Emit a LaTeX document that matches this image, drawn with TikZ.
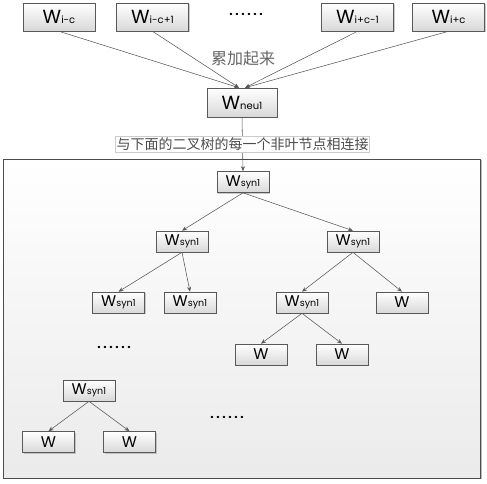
\documentclass[tikz,border=0pt]{standalone}
\usepackage{fontspec}
\setmainfont{Poppins}
\newfontfamily\cjk{Noto Sans CJK SC}
\usetikzlibrary{arrows.meta,shadows}
\newcommand{\WTop}[1]{{\fontsize{19}{19}\selectfont W}{\fontsize{10}{10}\selectfont #1}}
\newcommand{\WTree}[1]{{\fontsize{15.5}{15.5}\selectfont W}{\fontsize{9.5}{9.5}\selectfont #1}}
\newcommand{\SixDots}{.\kern2.6pt.\kern2.6pt.\kern2.6pt.\kern2.6pt.\kern2.6pt.}
\tikzset{
  boxbase/.style={draw=black!65, line width=0.6pt, top color=white, bottom color=black!15,
    inner sep=0pt, drop shadow={shadow xshift=1.3pt, shadow yshift=-1.3pt, fill=black!40, opacity=0.5}},
  topbox/.style={boxbase, minimum width=72pt, minimum height=28pt},
  neubox/.style={boxbase, minimum width=70pt, minimum height=29pt},
  treebox/.style={boxbase, minimum width=52pt, minimum height=21pt},
  conn/.style={draw=black!65, line width=0.55pt, -{Stealth[length=5pt,width=4pt]}},
  dotstyle/.style={font=\fontsize{12}{12}\selectfont\bfseries, inner sep=0pt}
}
\begin{document}
\begin{tikzpicture}[x=1pt,y=-1pt]
\useasboundingbox (0,0) rectangle (487,483);
% outer frame
\node[draw=black!70, line width=0.6pt, top color=white, bottom color=black!8,
  minimum width=477pt, minimum height=319pt, inner sep=0pt,
  drop shadow={shadow xshift=2pt, shadow yshift=-1pt, fill=black!45, opacity=0.6}] (frame) at (241.5,318.5) {};
% top row
\node[topbox] (t1) at (59,17) {\WTop{i-c}};
\node[topbox] (t2) at (152.5,17) {\WTop{i-c+1}};
\node[dotstyle] (tdots) at (246,14) {\SixDots};
\node[topbox] (t3) at (357.5,17) {\WTop{i+c-1}};
\node[topbox] (t4) at (448.5,17) {\WTop{i+c}};
\node[neubox] (neu) at (242,102.5) {\WTop{neu1}};
\node[font=\cjk\fontsize{16}{16}\selectfont, text=black!60, inner sep=1pt] (sumlbl) at (243,58) {累加起来};
\draw[conn] (t1.south) -- ([xshift=-3pt]neu.north);
\draw[conn] (t2.south) -- ([xshift=-3pt]neu.north);
\draw[conn] (t3.south) -- ([xshift=3pt]neu.north);
\draw[conn] (t4.south) -- ([xshift=3pt]neu.north);
% tree
\node[treebox] (r) at (243,182) {\WTree{syn1}};
\node[treebox] (a) at (182,241.5) {\WTree{syn1}};
\node[treebox] (b) at (353,241.5) {\WTree{syn1}};
\node[treebox] (a1) at (118.5,302.5) {\WTree{syn1}};
\node[treebox] (a2) at (190,302.5) {\WTree{syn1}};
\node[treebox] (b1) at (302,302.5) {\WTree{syn1}};
\node[treebox] (b2) at (402,302.5) {\WTree{}};
\node[treebox] (c1) at (261,354.5) {\WTree{}};
\node[treebox] (c2) at (342,354.5) {\WTree{}};
\node[treebox] (d) at (89,390.5) {\WTree{syn1}};
\node[treebox] (d1) at (48.5,442) {\WTree{}};
\node[treebox] (d2) at (129.5,442) {\WTree{}};
\node[dotstyle] (dots1) at (114,347) {\SixDots};
\node[dotstyle] (dots2) at (227,417) {\SixDots};
\draw[conn] (neu.south) -- (r.north);
\node[draw=black!20, fill=white, text=black!70, font=\cjk\fontsize{14}{14}\selectfont, inner xsep=1pt, inner ysep=1.5pt] (conlbl) at (242.5,144) {与下面的二叉树的每一个非叶节点相连接};
\draw[conn] (r.south) -- (a.north);
\draw[conn] (r.south) -- (b.north);
\draw[conn] (a.south) -- (a1.north);
\draw[conn] (a.south) -- (a2.north);
\draw[conn] (b.south) -- (b1.north);
\draw[conn] (b.south) -- (b2.north);
\draw[conn] (b1.south) -- (c1.north);
\draw[conn] (b1.south) -- (c2.north);
\draw[conn] (d.south) -- (d1.north);
\draw[conn] (d.south) -- (d2.north);
\end{tikzpicture}
\end{document}
